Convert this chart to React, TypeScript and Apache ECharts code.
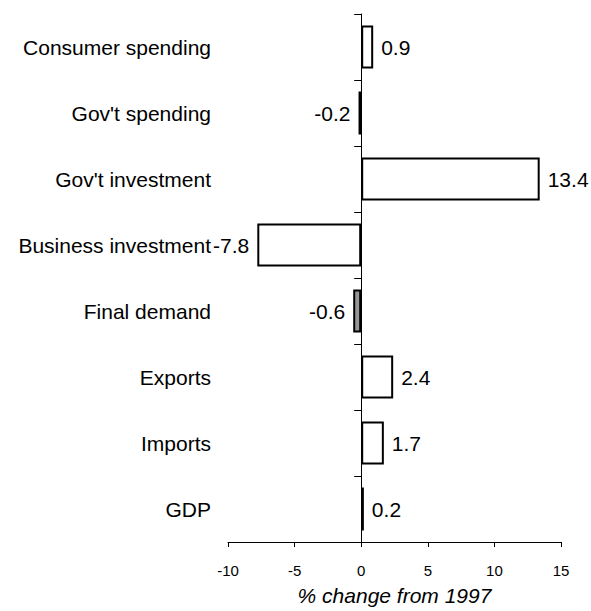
import React, { useEffect, useRef } from "react";
import * as echarts from "echarts";

const categories = [
  "Consumer spending",
  "Gov't spending",
  "Gov't investment",
  "Business investment",
  "Final demand",
  "Exports",
  "Imports",
  "GDP",
];
const values = [0.9, -0.2, 13.4, -7.8, -0.6, 2.4, 1.7, 0.2];
const shadedCategories = ["Final demand"];
const xTicks = { min: -10, max: 15, interval: 5 };
const xTitle = "% change from 1997";

const FONT = "'Liberation Sans', Arial, sans-serif";

export default function App() {
  const ref = useRef<HTMLDivElement>(null);
  useEffect(() => {
    if (!ref.current) return;
    const chart = echarts.init(ref.current, undefined, { renderer: "svg" });
    const data = values.map((v, i) => ({
      value: v,
      itemStyle: {
        color: shadedCategories.includes(categories[i]) ? "#969696" : "#ffffff",
        borderColor: "#000000",
        borderWidth: 2,
      },
      label: {
        show: true,
        position: v >= 0 ? "right" : "left",
        distance: 8,
        formatter: String(v),
        color: "#000",
        fontSize: 21,
        fontFamily: FONT,
      },
    }));
    chart.setOption({
      animation: false,
      backgroundColor: "#ffffff",
      grid: { left: 228, right: 30, top: 14, bottom: 63, containLabel: false },
      xAxis: {
        type: "value",
        min: xTicks.min,
        max: xTicks.max,
        interval: xTicks.interval,
        name: xTitle,
        nameLocation: "middle",
        nameGap: 43,
        nameTextStyle: {
          fontStyle: "italic",
          fontSize: 21,
          color: "#000",
          fontFamily: FONT,
        },
        axisLine: { show: true, onZero: false, lineStyle: { color: "#000", width: 1 } },
        axisTick: { show: true, length: 5, lineStyle: { color: "#000" } },
        axisLabel: { color: "#000", fontSize: 15, margin: 21, fontFamily: FONT },
        splitLine: { show: false },
      },
      yAxis: [
        {
          type: "category",
          data: categories,
          inverse: true,
          position: "left",
          axisLine: { show: false, onZero: false },
          axisTick: { show: false },
          axisLabel: {
            color: "#000",
            fontSize: 21,
            margin: 17,
            fontFamily: FONT,
            align: "right",
          },
        },
        {
          type: "category",
          data: categories,
          inverse: true,
          position: "left",
          axisLine: { show: true, onZero: true, lineStyle: { color: "#000", width: 1 } },
          axisTick: { show: true, length: 7, lineStyle: { color: "#000" } },
          axisLabel: { show: false },
        },
      ],
      series: [
        {
          type: "bar",
          yAxisIndex: 0,
          barWidth: 43,
          data,
        },
      ],
    });
    return () => chart.dispose();
  }, []);
  return (
    <div
      ref={ref}
      style={{ position: "absolute", left: 0, top: 0, width: 591, height: 611 }}
    />
  );
}
